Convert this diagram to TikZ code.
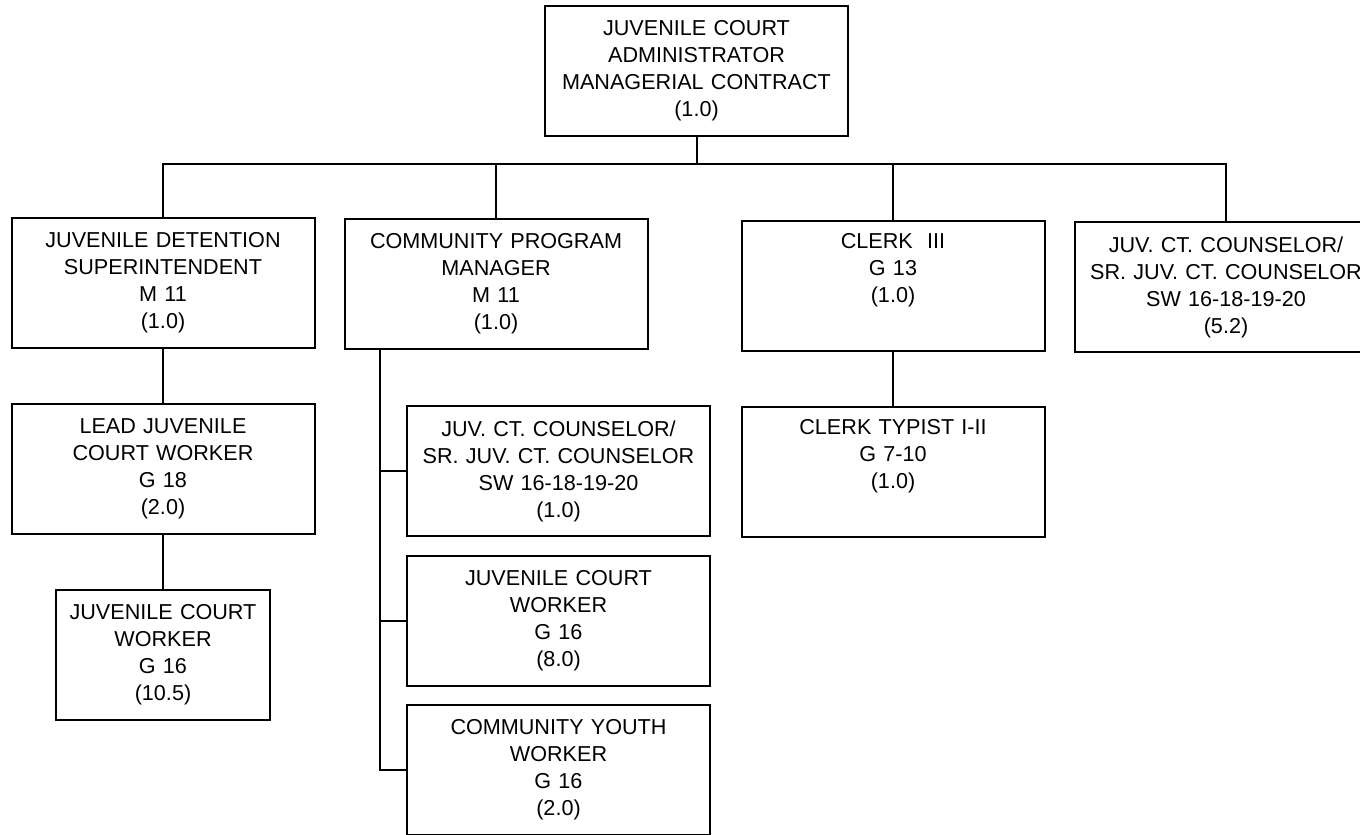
\documentclass[tikz,border=0pt]{standalone}
\usepackage{fontspec}
\setmainfont{Liberation Sans}
\begin{document}
\begin{tikzpicture}[x=0.5pt,y=-0.5pt,
  post/.style={draw,line width=1pt,inner sep=0pt,minimum width=151.5pt,minimum height=65pt,
    text width=148pt,align=center,font=\fontsize{10.8}{13.5}\selectfont},
  link/.style={line width=1pt}]
\useasboundingbox (0,0) rectangle (1360,835);
\node[post] (admin) at (696.5,71) {JUVENILE COURT\\ ADMINISTRATOR\\ MANAGERIAL CONTRACT\\ (1.0)};
\node[post] (super) at (163,282.5) {JUVENILE DETENTION\\ SUPERINTENDENT\\ M 11\\ (1.0)};
\node[post] (cpm) at (496,284) {COMMUNITY PROGRAM\\ MANAGER\\ M 11\\ (1.0)};
\node[post] (clerk) at (893,285.5) {CLERK~~III\\ G 13\\ (1.0)\\ \strut};
\node[post] (jcc) at (1226,287) {JUV. CT. COUNSELOR/\\ SR. JUV. CT. COUNSELOR\\ SW 16-18-19-20\\ (5.2)};
\node[post] (lead) at (163,468.5) {LEAD JUVENILE\\ COURT WORKER\\ G 18\\ (2.0)};
\node[post,minimum width=107pt,text width=104pt] (jcw) at (163,654.5) {JUVENILE COURT\\ WORKER\\ G 16\\ (10.5)};
\node[post] (couns) at (558.5,471) {JUV. CT. COUNSELOR/\\ SR. JUV. CT. COUNSELOR\\ SW 16-18-19-20\\ (1.0)};
\node[post] (jcw2) at (558.5,620.5) {JUVENILE COURT\\ WORKER\\ G 16\\ (8.0)};
\node[post] (youth) at (558.5,769.5) {COMMUNITY YOUTH\\ WORKER\\ G 16\\ (2.0)};
\node[post] (typist) at (893,471.5) {CLERK TYPIST I-II\\ G 7-10\\ (1.0)\\ \strut};
\coordinate (bus) at (0,164);
\coordinate (spine) at (380,0);
\draw[link] (admin.south) -- (admin.south |- bus);
\draw[link] (super.north) -- (super.north |- bus) -| (jcc.north);
\foreach \n in {cpm,clerk}
  \draw[link] (\n.north) -- (\n.north |- bus);
\draw[link] (super) -- (lead);
\draw[link] (lead) -- (jcw);
\draw[link] (clerk) -- (typist);
\draw[link] (cpm.south -| spine) -- (youth.west -| spine) -- (youth.west);
\foreach \n in {couns,jcw2}
  \draw[link] (\n.west -| spine) -- (\n.west);
\end{tikzpicture}
\end{document}
